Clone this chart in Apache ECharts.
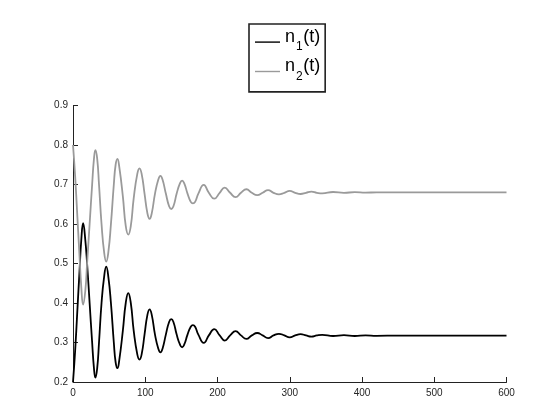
<!DOCTYPE html>
<html>
<head>
<meta charset="utf-8">
<script src="https://cdn.jsdelivr.net/npm/echarts@6/dist/echarts.min.js"></script>
<style>html,body{margin:0;padding:0;background:#fff;}#c{width:560px;height:420px;}</style>
</head>
<body>
<div id="c"></div>
<script>
var seriesNames = ['n1(t)', 'n2(t)'];
var xTicks = [0, 100, 200, 300, 400, 500, 600];
var yTicks = [0.2, 0.3, 0.4, 0.5, 0.6, 0.7, 0.8, 0.9];
var times = [0, 3, 6, 9, 11.5, 14, 17, 19.5, 23, 26.5, 29, 31, 33.5, 36, 39.5, 43, 46, 49, 52.5, 56.5, 59, 61.5, 64, 69, 73, 76.5, 80, 84, 89, 92, 95, 99, 103, 106, 109, 113.5, 118, 121, 124, 128.5, 133, 136, 139, 143.5, 148, 151, 154, 158.5, 163, 166, 169, 173.5, 181, 188, 195.5, 203, 210, 217.5, 225, 232.5, 240, 247.5, 255, 262.5, 270, 277.5, 285, 292.5, 300, 307.5, 315, 322.5, 330, 337.5, 345, 360, 375, 390, 405, 420, 450, 600];
var n1 = [0.200, 0.28, 0.38, 0.48, 0.56, 0.602, 0.56, 0.50, 0.40, 0.30, 0.235, 0.211, 0.235, 0.30, 0.40, 0.465, 0.492, 0.465, 0.40, 0.30, 0.25, 0.235, 0.255, 0.33, 0.40, 0.425, 0.40, 0.33, 0.27, 0.257, 0.27, 0.32, 0.37, 0.384, 0.37, 0.32, 0.285, 0.275, 0.285, 0.32, 0.352, 0.359, 0.352, 0.32, 0.295, 0.288, 0.295, 0.32, 0.34, 0.344, 0.34, 0.32, 0.299, 0.318, 0.334, 0.318, 0.305, 0.318, 0.329, 0.318, 0.309, 0.318, 0.324, 0.318, 0.311, 0.318, 0.322, 0.318, 0.313, 0.318, 0.321, 0.318, 0.315, 0.318, 0.3195, 0.3165, 0.3185, 0.3165, 0.318, 0.317, 0.3175, 0.3175];
var n2 = [0.800, 0.72, 0.62, 0.52, 0.44, 0.396, 0.43, 0.50, 0.60, 0.70, 0.765, 0.787, 0.765, 0.70, 0.60, 0.53, 0.505, 0.53, 0.60, 0.70, 0.75, 0.765, 0.745, 0.67, 0.595, 0.573, 0.595, 0.665, 0.727, 0.741, 0.727, 0.677, 0.627, 0.613, 0.627, 0.677, 0.712, 0.722, 0.712, 0.677, 0.645, 0.638, 0.645, 0.677, 0.703, 0.710, 0.703, 0.677, 0.656, 0.652, 0.656, 0.677, 0.699, 0.679, 0.664, 0.679, 0.692, 0.679, 0.668, 0.679, 0.688, 0.679, 0.673, 0.679, 0.686, 0.679, 0.675, 0.679, 0.684, 0.679, 0.676, 0.679, 0.682, 0.679, 0.6775, 0.681, 0.679, 0.6805, 0.6795, 0.680, 0.680, 0.680];

function pairs(ys) { return times.map(function (t, i) { return [t, ys[i]]; }); }

var FONT = 'Liberation Sans, Arial, sans-serif';
var chart = echarts.init(document.getElementById('c'), null, {renderer: 'canvas'});
var axisCommon = {
  axisLine: {show: true, lineStyle: {color: '#222', width: 1}},
  axisTick: {show: true, inside: true, length: 5, lineStyle: {color: '#222'}},
  axisLabel: {color: '#262626', fontSize: 10, fontFamily: FONT},
  splitLine: {show: false}
};
chart.setOption({
  animation: false,
  backgroundColor: '#fff',
  grid: {left: 73, right: 53.5, top: 105.5, bottom: 38, containLabel: false},
  legend: {
    orient: 'vertical',
    left: 249, top: 24,
    padding: [4, 5, 9.5, 6],
    itemGap: 4.4,
    itemWidth: 25, itemHeight: 24,
    icon: 'path://M0,0L0,0M25,24L25,24M0,13.4L25,13.4L25,14.8L0,14.8Z',
    borderColor: '#222', borderWidth: 1.6,
    backgroundColor: '#fff',
    data: seriesNames,
    formatter: function (name) {
      var m = name.match(/^n(\d)\(t\)$/);
      return '{a|n}{s|' + m[1] + '}{a|(t)}';
    },
    textStyle: {
      fontFamily: FONT,
      rich: {
        a: {fontSize: 18, color: '#000', fontFamily: FONT, lineHeight: 24, verticalAlign: 'top'},
        s: {fontSize: 12, color: '#000', fontFamily: FONT, lineHeight: 24, verticalAlign: 'top', padding: [13, 0.5, 0, 1]}
      }
    }
  },
  xAxis: Object.assign({type: 'value', min: xTicks[0], max: xTicks[xTicks.length - 1], interval: 100}, axisCommon, {
    axisLabel: Object.assign({}, axisCommon.axisLabel, {margin: 6})
  }),
  yAxis: Object.assign({type: 'value', min: yTicks[0], max: yTicks[yTicks.length - 1], interval: 0.1}, axisCommon, {
    axisLabel: Object.assign({}, axisCommon.axisLabel, {margin: 5, formatter: function (v) { return (Math.round(v * 10) / 10).toFixed(1); }})
  }),
  series: [
    {name: seriesNames[0], type: 'line', data: pairs(n1), smooth: 0.5, symbol: 'none', lineStyle: {color: '#000', width: 1.8}, itemStyle: {color: '#000'}},
    {name: seriesNames[1], type: 'line', data: pairs(n2), smooth: 0.5, symbol: 'none', lineStyle: {color: '#9a9a9a', width: 1.8}, itemStyle: {color: '#9a9a9a'}}
  ]
});
</script>
</body>
</html>
